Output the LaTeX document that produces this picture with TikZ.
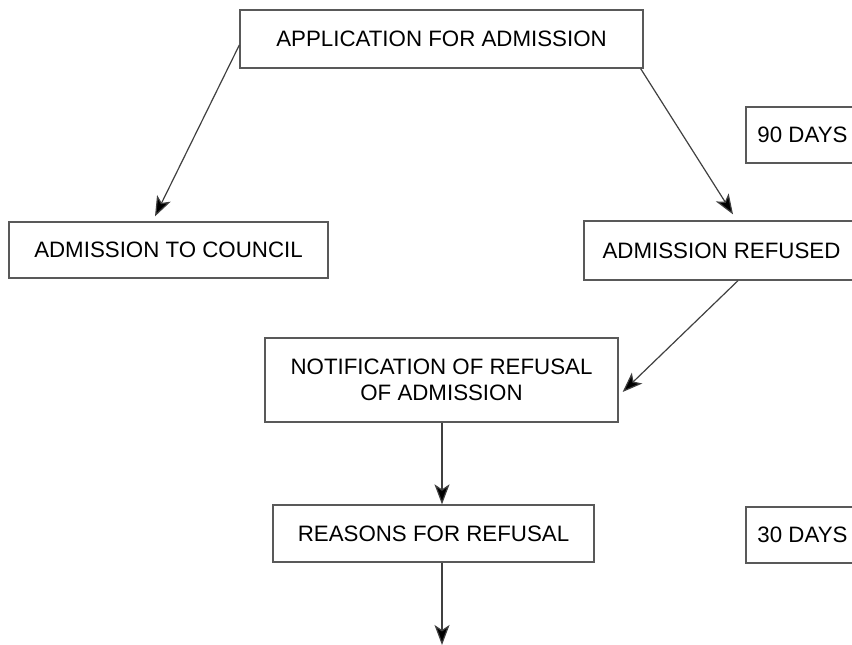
\documentclass[tikz,border=0pt]{standalone}
\usepackage{fontspec}
\setmainfont{Liberation Sans}
\usetikzlibrary{arrows.meta}
\begin{document}
\begin{tikzpicture}[x=1pt,y=-1pt,
  box/.style={draw=black!65,line width=1.3pt,fill=white,inner sep=0pt,align=center,
    text=black,font=\fontsize{22.3}{25.5}\selectfont},
  arr/.style={draw=black!75,line width=1.2pt,-{Stealth[length=20pt,width=15pt,inset=5pt,fill=black]}}]
\useasboundingbox (0,0) rectangle (852,645);
\clip (0,0) rectangle (852,645);
\node[box,minimum width=403pt,minimum height=58pt] (top) at (441.5,39) {APPLICATION FOR ADMISSION};
\node[box,minimum width=319pt,minimum height=56pt] (council) at (168.5,250) {ADMISSION TO COUNCIL};
\node[box,minimum width=275pt,minimum height=59pt] (refused) at (721.5,250.5) {ADMISSION REFUSED};
\node[box,minimum width=113pt,minimum height=56pt] (d90) at (802.5,135) {90 DAYS};
\node[box,minimum width=353pt,minimum height=84pt] (notif) at (441.5,380) {NOTIFICATION OF REFUSAL\\OF ADMISSION};
\node[box,minimum width=321pt,minimum height=57pt] (reasons) at (433.5,533.5) {REASONS FOR REFUSAL};
\node[box,minimum width=113pt,minimum height=56pt] (d30) at (802.5,535) {30 DAYS};
\coordinate (end) at (442,645);
\draw[arr] ([yshift=-6pt]top.west) -- ([xshift=-13.5pt,yshift=5pt]council.north);
\draw[arr] ([xshift=-3pt]top.south east) -- ([xshift=11.5pt,yshift=6pt]refused.north);
\draw[arr] ([xshift=16.5pt]refused.south) -- ([xshift=4pt,yshift=-12pt]notif.east);
\draw[arr] ([xshift=0.5pt]notif.south) -- ([xshift=0.5pt]notif.south |- reasons.north);
\draw[arr] (reasons.south -| end) -- (end);
\end{tikzpicture}
\end{document}
